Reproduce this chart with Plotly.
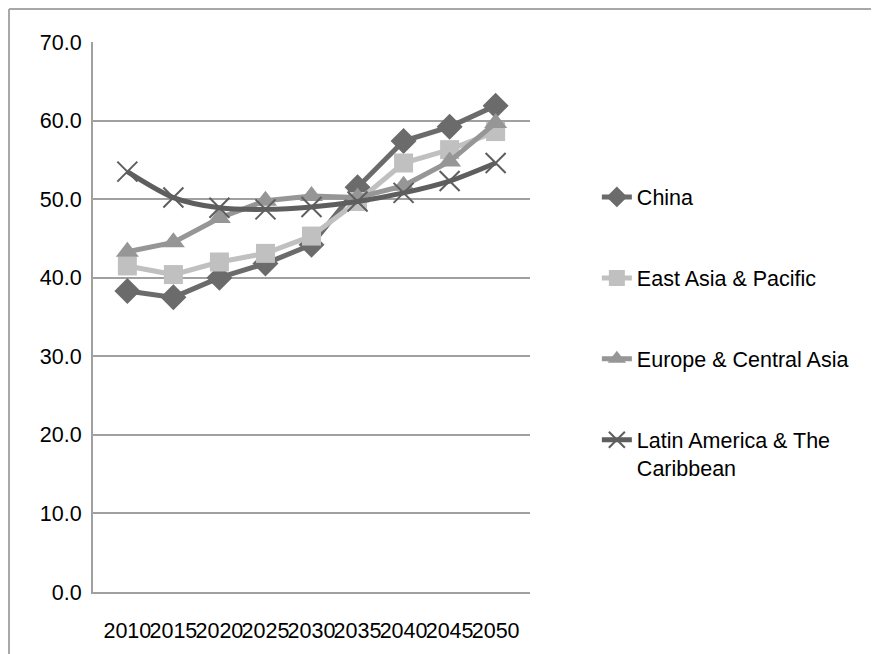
import plotly.graph_objects as go

years = ["2010", "2015", "2020", "2025", "2030", "2035", "2040", "2045", "2050"]
china = [38.3, 37.5, 40.0, 41.8, 44.2, 51.5, 57.4, 59.2, 61.9]
east_asia = [41.5, 40.4, 42.0, 43.1, 45.3, 49.7, 54.6, 56.3, 58.6]
europe = [43.3, 44.5, 47.6, 49.8, 50.4, 50.2, 51.7, 54.8, 59.7]
latin = [53.5, 50.2, 48.9, 48.7, 49.0, 49.7, 50.8, 52.3, 54.6]
y_ticks = [0, 10, 20, 30, 40, 50, 60, 70]
y_tick_text = ["0.0", "10.0", "20.0", "30.0", "40.0", "50.0", "60.0", "70.0"]

FONT = "Liberation Sans, Arial, sans-serif"

fig = go.Figure()
fig.add_trace(go.Scatter(
    x=years, y=china, name="China", mode="lines+markers", legendgroup="a",
    line=dict(color="#6b6b6b", width=5),
    marker=dict(symbol="diamond", size=20, color="#6b6b6b")))
fig.add_trace(go.Scatter(
    x=years, y=east_asia, name="East Asia & Pacific", mode="lines+markers", legendgroup="b",
    line=dict(color="#c0c0c0", width=5),
    marker=dict(symbol="square", size=19, color="#c0c0c0")))
fig.add_trace(go.Scatter(
    x=years, y=europe, name="Europe & Central Asia", mode="lines+markers", legendgroup="c",
    line=dict(color="#969696", width=5),
    marker=dict(symbol="triangle-up", size=20, color="#969696")))
fig.add_trace(go.Scatter(
    x=years, y=latin, name="Latin America & The<br>Caribbean", mode="lines+markers", legendgroup="d",
    line=dict(color="#5e5e5e", width=5, shape="spline", smoothing=0.8),
    marker=dict(symbol="x-thin", size=20, color="#5e5e5e", line=dict(color="#5e5e5e", width=2))))

# page body has an 8px margin, so the figure is offset by (8, 8)
fig.update_layout(
    width=871, height=646,
    margin=dict(l=85, r=349, t=34, b=62, autoexpand=False),
    paper_bgcolor="white", plot_bgcolor="white",
    font=dict(family=FONT, size=21.5, color="#000000"),
    showlegend=True,
    legend=dict(x=1.153, y=0.7555, xanchor="left", yanchor="top",
                font=dict(family=FONT, size=21.5, color="#000000"),
                tracegroupgap=50, valign="top", bgcolor="rgba(0,0,0,0)"),
    xaxis=dict(type="category", tickangle=0, showgrid=False, showline=True,
               linecolor="#a0a0a0", linewidth=2, ticks="", ticklabelstandoff=18,
               tickfont=dict(family=FONT, size=21.5)),
    yaxis=dict(range=[0, 70], tickvals=y_ticks, ticktext=y_tick_text,
               showgrid=True, gridcolor="#a0a0a0", gridwidth=2,
               showline=True, linecolor="#a0a0a0", linewidth=2, ticks="",
               zeroline=False, ticklabelstandoff=5,
               tickfont=dict(family=FONT, size=21.5)),
    shapes=[
        dict(type="line", xref="paper", yref="paper", x0=-0.1922, x1=-0.1922,
             y0=1.06, y1=-0.2, line=dict(color="#a8a8a8", width=2)),
        dict(type="line", xref="paper", yref="paper", x0=-0.1922, x1=1.9,
             y0=1.06, y1=1.06, line=dict(color="#a8a8a8", width=2)),
    ],
)

fig.write_html("out.html")
